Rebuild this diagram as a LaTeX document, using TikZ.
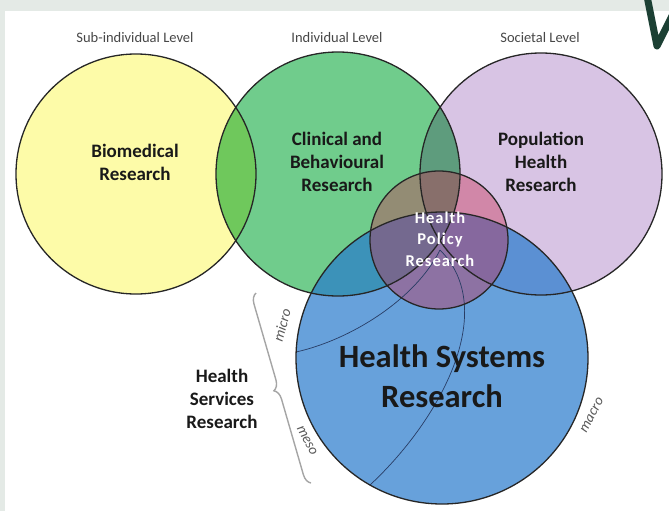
\documentclass[tikz,border=0pt]{standalone}
\usepackage{fontspec}
\setmainfont{Carlito}
\newfontfamily\hprfont[LetterSpace=6.0]{Carlito}
\usetikzlibrary{decorations.pathreplacing}
\definecolor{yel}{RGB}{253,251,168}
\definecolor{grn}{RGB}{112,204,140}
\definecolor{pur}{RGB}{216,196,228}
\definecolor{blu}{RGB}{39,122,205}
\definecolor{pol}{RGB}{200,45,80}
\definecolor{framec}{RGB}{228,234,230}
\definecolor{ink}{RGB}{25,25,25}
\definecolor{arcline}{RGB}{40,60,100}
\definecolor{wgreen}{RGB}{28,64,52}
\definecolor{bracec}{RGB}{165,165,165}
\begin{document}
\begin{tikzpicture}[x=1pt,y=-1pt,
  ring/.style={draw=black!85, line width=1.3pt},
  inner/.style={draw=arcline, line width=0.7pt},
  lvl/.style={font=\fontsize{14.5}{16}\selectfont, text=black!72},
  lab/.style={font=\fontsize{19}{23}\selectfont\bfseries, text=ink, align=center},
  hpr/.style={font=\hprfont\fontsize{16.5}{21.5}\selectfont\bfseries, text=white, align=center},
  hsr/.style={font=\fontsize{32.5}{40}\selectfont\bfseries, text=ink, align=center},
  tag/.style={font=\fontsize{14.5}{16}\selectfont\itshape, text=black!65, inner sep=1pt}]
\useasboundingbox (0,0) rectangle (669,511);
\fill[white] (0,0) rectangle (669,511);
\fill[framec] (0,0) rectangle (669,11);
\fill[framec] (0,0) rectangle (5,511);
\draw[wgreen, line width=7pt, line cap=round, line join=round] (647,-4) -- (657,46) -- (674,12);

\coordinate (yc) at (136,174);
\coordinate (gc) at (338,174);
\coordinate (pc) at (541,174);
\coordinate (bc) at (442,358);
\coordinate (hc) at (439,240);
\coordinate (mid) at (440,250);
\coordinate (m1) at (296,352);
\coordinate (m2) at (370,485);
\coordinate (b1) at (311,483);
\coordinate (b2) at (256,293);

% fills
\fill[yel] (yc) circle[radius=120pt];
\fill[grn, blend mode=multiply] (gc) circle[radius=122pt];
\fill[pur, blend mode=multiply] (pc) circle[radius=121pt];
\fill[blu, fill opacity=0.7] (bc) circle[radius=146pt];
\fill[pol, fill opacity=0.4] (hc) circle[radius=69pt];

% inner arcs
\draw[inner] (m1) .. controls (350,340) and (415,300) .. (mid);
\draw[inner] (m2) .. controls (440,420) and (500,310) .. (mid);

% outlines
\draw[ring] (yc) circle[radius=120pt];
\draw[ring] (gc) circle[radius=122pt];
\draw[ring] (pc) circle[radius=121pt];
\draw[ring] (bc) circle[radius=146pt];
\draw[ring] (hc) circle[radius=69pt];

% brace
\draw[bracec, line width=1.4pt, decorate, decoration={brace, amplitude=10pt}] (b1) -- (b2);

% texts
\node[lvl] (l1) at (135,38) {Sub-individual Level};
\node[lvl] (l2) at (337,38) {Individual Level};
\node[lvl] (l3) at (540,38) {Societal Level};
\node[lab] (bio) at (135,162) {Biomedical\\Research};
\node[lab] (cli) at (337,162) {Clinical and\\Behavioural\\Research};
\node[lab] (pop) at (541,162) {Population\\Health\\Research};
\node[hpr] (hp) at (440,239) {Health\\Policy\\Research};
\node[hsr] (hs) at (442,376) {Health Systems\\Research};
\node[lab] (hser) at (222,399) {Health\\Services\\Research};
\node[tag, rotate=75] (mi) at (282,325) {micro};
\node[tag, rotate=-62] (me) at (307,441) {meso};
\node[tag, rotate=62] (ma) at (592,415) {macro};
\end{tikzpicture}
\end{document}
